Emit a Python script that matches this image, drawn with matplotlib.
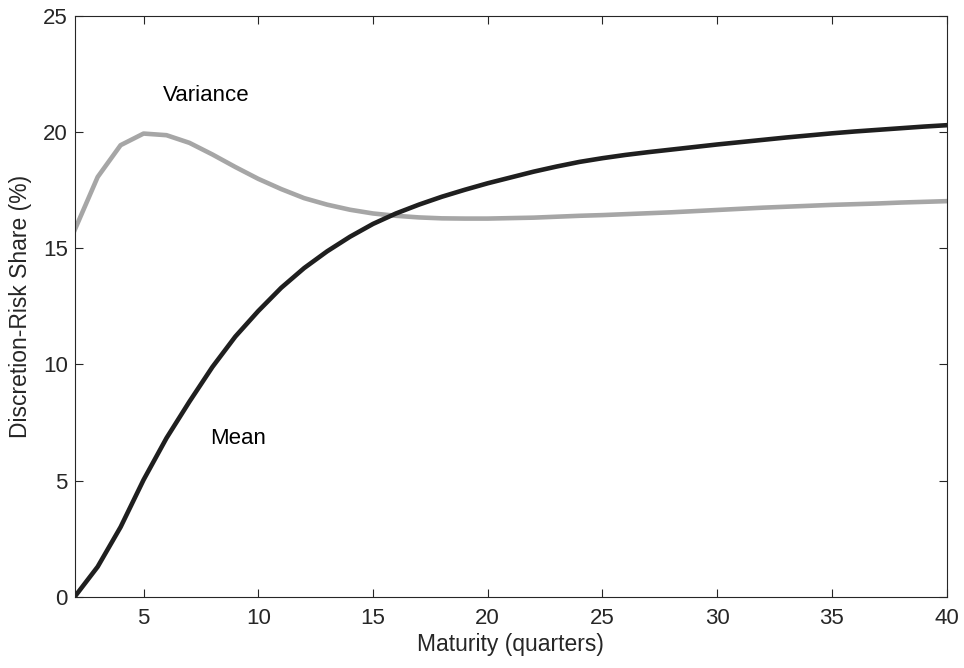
import matplotlib
matplotlib.use("Agg")
import matplotlib.pyplot as plt

plt.rcParams['font.family'] = ['Liberation Sans', 'DejaVu Sans']

maturity = list(range(2, 41))
mean_share = [0.0, 1.29, 3.0, 5.03, 6.83, 8.4, 9.89, 11.2, 12.3, 13.3,
              14.15, 14.87, 15.5, 16.05, 16.5, 16.88, 17.22, 17.52, 17.8, 18.05,
              18.3, 18.52, 18.72, 18.88, 19.02, 19.14, 19.25, 19.36, 19.47, 19.57,
              19.67, 19.77, 19.86, 19.95, 20.03, 20.1, 20.17, 20.24, 20.3]
variance_share = [15.79, 18.07, 19.44, 19.94, 19.87, 19.54, 19.04, 18.5, 17.99, 17.55,
                  17.16, 16.88, 16.66, 16.5, 16.4, 16.33, 16.29, 16.28, 16.28, 16.3,
                  16.32, 16.36, 16.4, 16.43, 16.47, 16.51, 16.55, 16.6, 16.65, 16.7,
                  16.75, 16.79, 16.83, 16.87, 16.9, 16.93, 16.97, 17.0, 17.03]
xticks = [5, 10, 15, 20, 25, 30, 35, 40]
yticks = [0, 5, 10, 15, 20, 25]

fig = plt.figure(figsize=(9.64, 6.68), dpi=100)
ax = fig.add_axes([0.0775, 0.1067, 0.982 - 0.0775, 0.976 - 0.1067])

ax.plot(maturity, variance_share, color='#a6a6a6', lw=3.3, solid_joinstyle='round')
ax.plot(maturity, mean_share, color='#1f1f1f', lw=3.3, solid_joinstyle='round')

ax.text(7.75, 21.6, 'Variance', fontsize=16, ha='center', va='center', color='black')
ax.text(9.13, 6.82, 'Mean', fontsize=16, ha='center', va='center', color='black')

ax.set_xlim(2, 40)
ax.set_ylim(0, 25)
ax.set_xticks(xticks)
ax.set_yticks(yticks)
ax.tick_params(direction='in', length=6, width=0.8, top=True, right=True,
               labelsize=16, colors='#262626')
ax.tick_params(axis='x', pad=8)
ax.tick_params(axis='y', pad=5)
for s in ax.spines.values():
    s.set_color('#262626')
    s.set_linewidth(0.8)
ax.set_xlabel('Maturity (quarters)', fontsize=16.5, color='#262626', labelpad=3)
ax.set_ylabel('Discretion-Risk Share (%)', fontsize=16.5, color='#262626', labelpad=8)

fig.savefig('out.png', dpi=100)
